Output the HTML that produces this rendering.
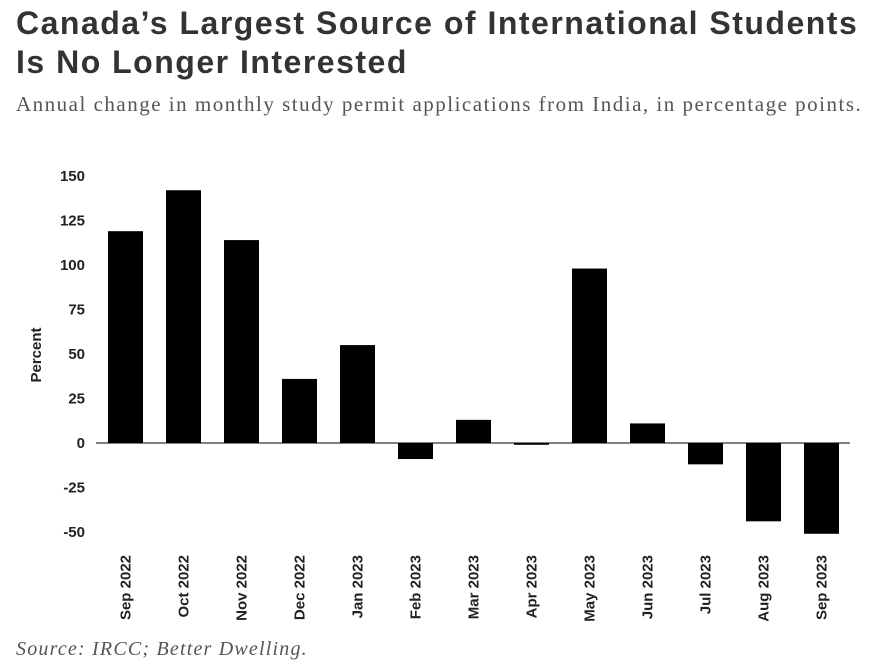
<!DOCTYPE html>
<html><head><meta charset="utf-8"><style>
body{margin:0;background:#fff;width:873px;height:671px;overflow:hidden;position:relative;font-family:"Liberation Sans",sans-serif}
.t{position:absolute;left:16px;top:4px;font-size:32px;font-weight:bold;color:#333;line-height:39px;letter-spacing:1.5px}
.s{position:absolute;left:16px;top:92px;font-family:"Liberation Serif",serif;font-size:21px;color:#555;letter-spacing:1.5px;white-space:nowrap}
.src{position:absolute;left:16px;top:638px;font-family:"Liberation Serif",serif;font-style:italic;font-size:20px;color:#555;letter-spacing:1.2px}
</style></head><body>
<div class="t">Canada’s Largest Source of International Students<br>Is No Longer Interested</div>
<div class="s">Annual change in monthly study permit applications from India, in percentage points.</div>
<svg id="c" width="873" height="671" style="position:absolute;left:0;top:0"></svg>
<div class="src">Source: IRCC; Better Dwelling.</div>
<script>
const categories=["Sep 2022","Oct 2022","Nov 2022","Dec 2022","Jan 2023","Feb 2023","Mar 2023","Apr 2023","May 2023","Jun 2023","Jul 2023","Aug 2023","Sep 2023"];
const values=[119,142,114,36,55,-9,13,-1,98,11,-12,-44,-51];
const yTicks=[150,125,100,75,50,25,0,-25,-50];
const NS="http://www.w3.org/2000/svg";
const svg=document.getElementById('c');
const x0=96,bw=58,y0=443,k=1.78;
const y=v=>y0-v*k;
function mk(t,a){const e=document.createElementNS(NS,t);for(const n in a)e.setAttribute(n,a[n]);svg.appendChild(e);return e;}
yTicks.forEach(v=>{const e=mk('text',{x:85,y:y(v)+5,'text-anchor':'end','font-size':15,'font-weight':'bold',fill:'#222'});e.textContent=v;

});
values.forEach((v,i)=>{const bx=x0+i*bw+12;const r=mk('rect',{x:bx,y:Math.min(y(v),y0),width:35,height:Math.abs(v*k),fill:'#000'});


const cx=bx+17.5;const t=mk('text',{x:0,y:0,transform:`translate(${cx+5},555) rotate(-90)`,'text-anchor':'end','font-size':15,'font-weight':'bold',fill:'#222'});t.textContent=categories[i];

});
const ax=mk('line',{x1:x0,x2:x0+13*bw,y1:y0,y2:y0,stroke:'#000','stroke-width':1});


const yl=mk('text',{transform:'translate(41,355) rotate(-90)','text-anchor':'middle','font-size':15,'font-weight':'bold',fill:'#222'});yl.textContent='Percent';


</script>
</body></html>
